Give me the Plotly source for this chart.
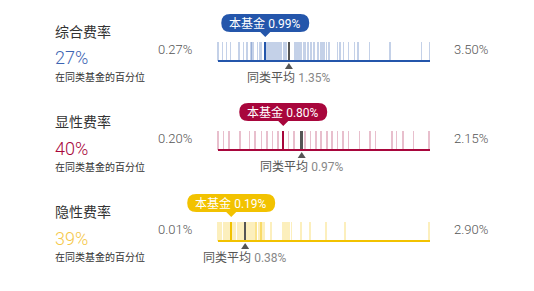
import plotly.graph_objects as go

# ---- data ----
metric_names = ["综合费率", "显性费率", "隐性费率"]
percentiles = ["27%", "40%", "39%"]
subtitle = "在同类基金的百分位"
range_min = [0.27, 0.20, 0.01]
range_max = [3.50, 2.15, 2.90]
fund_values = [0.99, 0.80, 0.19]
avg_values = [1.35, 0.97, 0.38]

peers_total = [0.27, 0.34, 0.40, 0.46, 0.59, 0.66, 0.71, 0.77, 0.79, 0.81, 0.87, 0.91, 0.93,
               1.02, 1.05, 1.08, 1.11, 1.14, 1.17, 1.20, 1.23, 1.28, 1.31, 1.44, 1.47, 1.50,
               1.53, 1.57, 1.60, 1.64, 1.69, 1.73, 1.79, 1.84, 1.87, 1.89, 1.92, 1.96, 2.09,
               2.13, 2.18, 2.26, 2.35, 2.40, 2.58, 2.89, 3.37, 3.49]
peers_explicit = [0.20, 0.25, 0.30, 0.40, 0.49, 0.54, 0.60, 0.65, 0.70, 0.75, 0.85, 0.90,
                  1.00, 1.05, 1.10, 1.15, 1.20, 1.25, 1.30, 1.35, 1.40, 1.50, 1.60, 1.65,
                  1.80, 1.84, 1.90, 2.00, 2.14]
peers_implicit = [0.01, 0.04, 0.06, 0.09, 0.12, 0.15, 0.17, 0.20, 0.23, 0.25, 0.28, 0.31,
                  0.34, 0.36, 0.39, 0.42, 0.45, 0.47, 0.50, 0.53, 0.53, 0.56, 0.58, 0.60,
                  0.60, 0.61, 0.64, 0.73, 0.90, 0.92, 0.95, 0.98, 1.01, 1.14, 1.26, 1.48,
                  1.74, 2.89]
peers = [peers_total, peers_explicit, peers_implicit]

# ---- styles ----
main_colors = ["#2456ab", "#a8063c", "#f2c200"]
light_colors = ["rgba(36,86,171,0.27)", "rgba(168,6,60,0.26)", "rgba(242,194,0,0.26)"]
pct_colors = ["#3d64b2", "#a8063c", "#f5c84a"]
W = 534
H = 291
STRIP_L, STRIP_R = 218, 430        # strip pixel extent
DOM_L, DOM_R = 160, 450            # subplot pixel extent (room for bubbles)
strip_px = [(42, 61), (131, 150), (222, 241)]
PAD_TOP, PAD_BOT = 34, 28
title_py = [31, 121, 211]
NUM_FONT = "Roboto, sans-serif"
CJK_FONT = "Noto Sans CJK SC, sans-serif"

fig = go.Figure()
annotations = []
shapes = []

for i in range(3):
    xa = "x" if i == 0 else f"x{i+1}"
    ya = "y" if i == 0 else f"y{i+1}"
    xa_key = "xaxis" if i == 0 else f"xaxis{i+1}"
    ya_key = "yaxis" if i == 0 else f"yaxis{i+1}"
    top, bot = strip_px[i]
    hgt = bot - top
    span = range_max[i] - range_min[i]
    u = span / (STRIP_R - STRIP_L)  # data units per pixel

    fig.add_trace(go.Bar(x=peers[i], y=[1] * len(peers[i]), width=1.6 * u,
                         marker=dict(color=light_colors[i], line=dict(width=0)),
                         xaxis=xa, yaxis=ya, hoverinfo="skip", showlegend=False))
    fig.add_trace(go.Bar(x=[fund_values[i]], y=[1], width=2.2 * u,
                         marker=dict(color=main_colors[i], line=dict(width=0)),
                         xaxis=xa, yaxis=ya, hoverinfo="skip", showlegend=False))
    fig.add_trace(go.Bar(x=[avg_values[i]], y=[1], width=2.6 * u,
                         marker=dict(color="#555555", line=dict(width=0)),
                         xaxis=xa, yaxis=ya, hoverinfo="skip", showlegend=False))
    # baseline
    fig.add_trace(go.Scatter(x=[range_min[i], range_max[i]], y=[0, 0], mode="lines",
                             line=dict(color=main_colors[i], width=2),
                             xaxis=xa, yaxis=ya, hoverinfo="skip", showlegend=False))

    fig.layout[xa_key] = dict(domain=[DOM_L / W, DOM_R / W],
                              range=[range_min[i] - (STRIP_L - DOM_L) * u,
                                     range_max[i] + (DOM_R - STRIP_R) * u],
                              anchor=ya, visible=False, fixedrange=True)
    fig.layout[ya_key] = dict(domain=[1 - (bot + PAD_BOT) / H, 1 - (top - PAD_TOP) / H],
                              range=[-PAD_BOT / hgt, 1 + PAD_TOP / hgt], anchor=xa,
                              visible=False, fixedrange=True)

    # bubble (pill with pointer), anchored at fund value
    r = 9
    L, R = -44, 44
    yb, yt = 10, 28
    path = (f"M {L+r},{yb} L -5,{yb} L 0,5 L 5,{yb} L {R-r},{yb} "
            f"Q {R},{yb} {R},{yb+r} Q {R},{yt} {R-r},{yt} L {L+r},{yt} "
            f"Q {L},{yt} {L},{yb+r} Q {L},{yb} {L+r},{yb} Z")
    shapes.append(dict(type="path", xref=xa, yref=ya, xsizemode="pixel", ysizemode="pixel",
                       xanchor=fund_values[i], yanchor=1, path=path,
                       fillcolor=main_colors[i], line=dict(width=0), layer="above"))
    annotations.append(dict(x=fund_values[i], y=1, xref=xa, yref=ya, yshift=19, showarrow=False,
                            text=f"<span style='font-family:{CJK_FONT}'>本基金</span> "
                                 f"<span style='font-family:{NUM_FONT}'>{fund_values[i]:.2f}%</span>",
                            font=dict(size=12, color="white"), xanchor="center", yanchor="middle"))
    # average triangle
    shapes.append(dict(type="path", xref=xa, yref=ya, xsizemode="pixel", ysizemode="pixel",
                       xanchor=avg_values[i], yanchor=0, path="M -4,-8 L 4,-8 L 0,-2 Z",
                       fillcolor="#555555", line=dict(width=0), layer="above"))
    annotations.append(dict(x=avg_values[i], y=0, xref=xa, yref=ya, yshift=-16, showarrow=False,
                            text=f"<span style='font-family:{CJK_FONT};color:#555'>同类平均</span> "
                                 f"<span style='font-family:{NUM_FONT};color:#888'>{avg_values[i]:.2f}%</span>",
                            font=dict(size=12), xanchor="center", yanchor="middle"))
    # min/max labels
    mid = (top + bot) / 2 - 2
    annotations.append(dict(x=194 / W, y=1 - mid / H, xref="paper", yref="paper", showarrow=False,
                            text=f"{range_min[i]:.2f}%", xanchor="right", yanchor="middle",
                            font=dict(family=NUM_FONT, size=13, color="#555", weight=300)))
    annotations.append(dict(x=452 / W, y=1 - mid / H, xref="paper", yref="paper", showarrow=False,
                            text=f"{range_max[i]:.2f}%", xanchor="left", yanchor="middle",
                            font=dict(family=NUM_FONT, size=13, color="#555", weight=300)))
    # left labels
    ty = title_py[i]
    annotations.append(dict(x=53 / W, y=1 - ty / H, xref="paper", yref="paper", showarrow=False,
                            text=metric_names[i], xanchor="left", yanchor="middle",
                            font=dict(family=CJK_FONT, size=14, color="#333")))
    annotations.append(dict(x=53 / W, y=1 - (ty + 27) / H, xref="paper", yref="paper", showarrow=False,
                            text=percentiles[i], xanchor="left", yanchor="middle",
                            font=dict(family=NUM_FONT, size=18, color=pct_colors[i], weight=300)))
    annotations.append(dict(x=53 / W, y=1 - (ty + 45.5) / H, xref="paper", yref="paper", showarrow=False,
                            text=subtitle, xanchor="left", yanchor="middle",
                            font=dict(family=CJK_FONT, size=10, color="#333")))

fig.update_layout(width=W, height=H, margin=dict(l=0, r=0, t=0, b=0),
                  paper_bgcolor="white", plot_bgcolor="rgba(0,0,0,0)",
                  barmode="overlay", bargap=0, showlegend=False,
                  annotations=annotations, shapes=shapes)

fig.write_html("out.html", config={"displayModeBar": False})
